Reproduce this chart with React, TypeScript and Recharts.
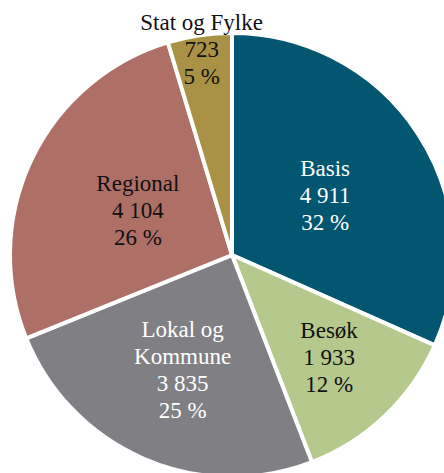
import React from 'react';
import { PieChart, Pie, Cell } from 'recharts';

const categories = ['Basis', 'Besøk', 'Lokal og Kommune', 'Regional', 'Stat og Fylke'];
const values = [4911, 1933, 3835, 4104, 723];
const colors = ['#02566F', '#B5C98C', '#807F84', '#AE6F66', '#A99245'];
const textColors = ['#ffffff', '#111111', '#ffffff', '#111111', '#111111'];
// category label split into lines
const nameLines: string[][] = [['Basis'], ['Besøk'], ['Lokal og', 'Kommune'], ['Regional'], ['Stat og Fylke']];
// how far out from the centre each label sits (fraction of radius)
const labelRadius = [0.5, 0.635, 0.56, 0.47, 0.937];

const data = categories.map((name, i) => ({ name, value: values[i] }));

const fmt = (n: number) => String(n).replace(/\B(?=(\d{3})+(?!\d))/g, ' ');

const LINE_H = 27;
const FONT = "'Liberation Serif', 'Times New Roman', serif";

const renderLabel = (props: any) => {
  const { cx, cy, midAngle, outerRadius, percent, index } = props;
  const i = index ?? categories.indexOf(props.name);
  const r = outerRadius * labelRadius[i];
  const rad = (Math.PI / 180) * midAngle;
  const x = cx + r * Math.cos(rad);
  const y = cy - r * Math.sin(rad);
  const lines = [...nameLines[i], fmt(values[i]), `${Math.round(percent * 100)} %`];
  const start = y - ((lines.length - 1) / 2) * LINE_H;
  return (
    <text
      key={`lbl-${i}`}
      x={x}
      y={start}
      textAnchor="middle"
      dominantBaseline="central"
      fill={textColors[i]}
      style={{ fontFamily: FONT, fontSize: 23 }}
    >
      {lines.map((l, k) => (
        <tspan key={k} x={x} y={start + k * LINE_H}>
          {l}
        </tspan>
      ))}
    </text>
  );
};

export default function App() {
  return (
    <div style={{ position: 'absolute', left: 0, top: 0, width: 444, height: 473, background: '#fff', fontFamily: FONT }}>
      <PieChart width={444} height={473} margin={{ top: 0, right: 0, bottom: 0, left: 0 }}>
        <Pie
          data={data}
          dataKey="value"
          nameKey="name"
          cx={232}
          cy={255}
          outerRadius={222}
          startAngle={90}
          endAngle={-270}
          stroke="#ffffff"
          strokeWidth={4}
          label={renderLabel}
          labelLine={false}
          isAnimationActive={false}
        >
          {data.map((d, i) => (
            <Cell key={d.name} fill={colors[i]} />
          ))}
        </Pie>
      </PieChart>
    </div>
  );
}
